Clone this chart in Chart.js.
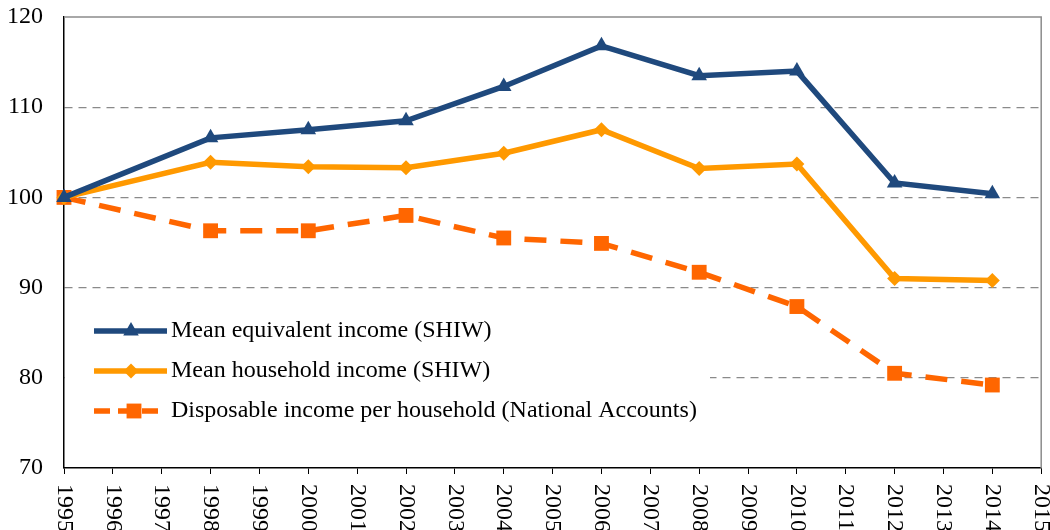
<!DOCTYPE html>
<html>
<head>
<meta charset="utf-8">
<script src="https://cdn.jsdelivr.net/npm/chart.js@4.4.0/dist/chart.umd.min.js"></script>
<style>
  html, body { margin: 0; padding: 0; background: #fff; overflow: hidden; }
  #wrap { position: relative; width: 1074px; height: 530px; }
</style>
</head>
<body>
<div id="wrap"><canvas id="incomeChart"></canvas></div>
<script>
// Datos (índice 1995 = 100)
const years = [1995, 1998, 2000, 2002, 2004, 2006, 2008, 2010, 2012, 2014];
const equivalentIncome = [100, 106.6, 107.5, 108.5, 112.3, 116.8, 113.5, 114.0, 101.6, 100.4];
const householdIncome = [100, 103.9, 103.4, 103.3, 104.9, 107.5, 103.2, 103.7, 91.0, 90.8];
const nationalAccounts = [100, 96.3, 96.3, 98.0, 95.5, 94.9, 91.7, 87.9, 80.5, 79.2];
const seriesLabels = [
    'Mean equivalent income (SHIW)',
    'Mean household income (SHIW)',
    'Disposable income per household (National Accounts)'
];
const yTicks = [70, 80, 90, 100, 110, 120];
const xFirst = 1995;
const xLast = 2015;

const serif = "'Liberation Serif', 'Times New Roman', serif";

function toPoints(values) {
    return years.map((year, i) => ({ x: year, y: values[i] }));
}

// Marco, leyenda y etiquetas verticales del eje x
const customDraw = {
    id: 'customDraw',
    afterDraw(chart) {
        const ctx = chart.ctx;
        const area = chart.chartArea;
        const xScale = chart.scales.x;

        // borde superior y derecho gris
        ctx.save();
        ctx.strokeStyle = '#8c8c8c';
        ctx.lineWidth = 1.5;
        ctx.beginPath();
        ctx.moveTo(area.left, area.top);
        ctx.lineTo(area.right, area.top);
        ctx.lineTo(area.right, area.bottom);
        ctx.stroke();
        ctx.restore();

        // etiquetas del eje x (de arriba hacia abajo)
        ctx.save();
        ctx.fillStyle = '#000';
        ctx.font = '24px ' + serif;
        ctx.textAlign = 'left';
        ctx.textBaseline = 'middle';
        xScale.ticks.forEach(tick => {
            const x = xScale.getPixelForValue(tick.value);
            ctx.save();
            ctx.translate(x, area.bottom + 16);
            ctx.rotate(Math.PI / 2);
            ctx.fillText(String(tick.value), 0, 0);
            ctx.restore();
        });
        ctx.restore();

        // leyenda dentro del área
        ctx.save();
        ctx.fillStyle = '#fff';
        ctx.fillRect(area.left + 1, 300, 645, 140);
        ctx.font = '24px ' + serif;
        ctx.textBaseline = 'middle';
        chart.data.datasets.forEach((ds, i) => {
            const y = 331 + i * 40;
            const x0 = 94;
            const x1 = ds.borderDash ? 158 : 167;
            ctx.strokeStyle = ds.borderColor;
            ctx.lineWidth = ds.borderWidth;
            ctx.setLineDash(ds.borderDash ? [16, 8] : []);
            ctx.beginPath();
            ctx.moveTo(x0, y);
            ctx.lineTo(x1, y);
            ctx.stroke();
            ctx.setLineDash([]);
            ctx.fillStyle = ds.pointBackgroundColor;
            ctx.strokeStyle = ds.pointBackgroundColor;
            Chart.helpers.drawPoint(ctx, {
                pointStyle: ds.pointStyle,
                radius: ds.pointRadius,
                rotation: 0,
                borderWidth: 0
            }, ds.borderDash ? 134 : 131, y);
            ctx.fillStyle = '#000';
            ctx.fillText(ds.label, 171, y);
        });
        ctx.restore();
    }
};

const ctx = document.getElementById('incomeChart').getContext('2d');
const incomeChart = new Chart(ctx, {
    type: 'line',
    data: {
        datasets: [
            {
                label: seriesLabels[0],
                data: toPoints(equivalentIncome),
                borderColor: '#1F497D',
                backgroundColor: '#1F497D',
                pointBackgroundColor: '#1F497D',
                borderWidth: 5.5,
                pointStyle: 'triangle',
                pointRadius: 9,
                pointBorderWidth: 0
            },
            {
                label: seriesLabels[1],
                data: toPoints(householdIncome),
                borderColor: '#FF9900',
                backgroundColor: '#FF9900',
                pointBackgroundColor: '#FF9900',
                borderWidth: 5.5,
                pointStyle: 'rectRot',
                pointRadius: 7.5,
                pointBorderWidth: 0
            },
            {
                label: seriesLabels[2],
                data: toPoints(nationalAccounts),
                borderColor: '#FF6600',
                backgroundColor: '#FF6600',
                pointBackgroundColor: '#FF6600',
                borderWidth: 5.5,
                borderDash: [22, 14],
                pointStyle: 'rect',
                pointRadius: 10.5,
                pointBorderWidth: 0
            }
        ]
    },
    options: {
        responsive: true,
        maintainAspectRatio: false,
        animation: false,
        clip: false,
        layout: {
            padding: { left: 7, top: 0, right: 6, bottom: 0 }
        },
        elements: {
            line: { tension: 0, fill: false }
        },
        scales: {
            x: {
                type: 'linear',
                min: xFirst,
                max: xLast,
                ticks: {
                    stepSize: 1,
                    autoSkip: false,
                    minRotation: 90,
                    maxRotation: 90,
                    padding: 4,
                    color: 'rgba(0,0,0,0)',
                    font: { family: serif, size: 24 },
                    callback: value => String(value)
                },
                grid: {
                    drawOnChartArea: false,
                    drawTicks: true,
                    tickLength: 6,
                    tickColor: '#000',
                    tickWidth: 1
                },
                border: { color: '#000', width: 1.5 }
            },
            y: {
                min: yTicks[0],
                max: yTicks[yTicks.length - 1],
                afterBuildTicks: scale => {
                    scale.ticks = yTicks.map(v => ({ value: v }));
                },
                afterFit: scale => {
                    // ancho = etiqueta + separación simple
                    scale.width = 57;
                    scale.paddingTop = 17;
                    scale.paddingBottom = 12;
                },
                ticks: {
                    padding: 21,
                    color: '#000',
                    font: { family: serif, size: 24 }
                },
                grid: {
                    drawTicks: false,
                    lineWidth: 1.3,
                    color: c => (c.tick && (c.tick.value === 70 || c.tick.value === 120)) ? 'rgba(0,0,0,0)' : '#8a8a8a'
                },
                border: { color: '#000', width: 1.5, dash: [8, 6] }
            }
        },
        plugins: {
            legend: { display: false },
            tooltip: { enabled: false }
        }
    },
    plugins: [customDraw]
});
</script>
</body>
</html>
